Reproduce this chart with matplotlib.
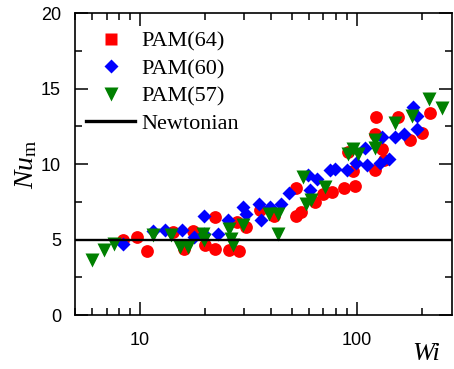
import matplotlib
matplotlib.use("Agg")
import matplotlib.pyplot as plt
from matplotlib.lines import Line2D
from matplotlib.ticker import LogLocator, NullFormatter, FixedLocator

plt.rcParams['mathtext.fontset'] = 'custom'
plt.rcParams['mathtext.it'] = 'Liberation Serif:italic'
plt.rcParams['mathtext.rm'] = 'Liberation Serif'

# PAM(64) - red circles
wi_64 = [8.37, 9.65, 10.7, 14.1, 16.0, 17.5, 19.9, 22.2, 22.2, 25.8, 28.5, 27.9,
         30.8, 35.6, 41.3, 52.5, 52.5, 55.4, 63.9, 69.9, 76.4, 87.1, 97.9, 96.3,
         91.2, 121, 121, 123, 130, 133, 155, 176, 199, 218]
nu_64 = [5.0, 5.18, 4.26, 5.5, 4.4, 5.55, 4.63, 4.41, 6.5, 4.3, 4.26, 6.17,
         5.84, 6.95, 6.6, 8.4, 6.55, 6.84, 7.5, 8.05, 8.16, 8.42, 8.55, 9.55,
         10.8, 9.6, 12.0, 13.1, 11.0, 10.25, 13.1, 11.6, 12.06, 13.4]

# PAM(60) - blue diamonds
wi_60 = [8.37, 11.5, 13.0, 15.6, 17.8, 19.6, 19.6, 22.8, 25.4, 29.8, 30.8, 35.3,
         36.2, 39.8, 44.8, 48.6, 59.5, 65.1, 60.5, 75.0, 79.1, 89.6, 99.5, 111,
         109, 130, 128, 140, 150, 164, 182, 189, 189]
nu_60 = [4.7, 5.56, 5.62, 5.62, 5.18, 6.55, 5.4, 5.4, 6.28, 7.17, 6.73, 7.39,
         6.28, 7.17, 7.34, 8.1, 9.26, 9.04, 8.27, 9.6, 9.7, 9.6, 10.1, 9.92,
         11.1, 11.8, 10.1, 10.36, 11.8, 12.0, 13.8, 13.2, 12.3]

# PAM(57) - green triangles
wi_57 = [6.01, 6.81, 7.58, 11.4, 13.9, 15.2, 16.6, 19.4, 19.8, 25.8, 26.3, 26.8,
         29.8, 39.5, 43.2, 43.2, 56.5, 58.5, 61.7, 71.1, 91.2, 96.3, 101, 121,
         121, 150, 179, 214, 246]
nu_57 = [3.64, 4.3, 4.74, 5.3, 5.3, 4.52, 4.52, 5.4, 4.96, 5.73, 5.07, 4.63,
         5.95, 6.73, 6.73, 5.4, 9.15, 7.39, 7.6, 8.49, 10.7, 11.0, 10.7, 11.6,
         11.1, 12.7, 13.2, 14.3, 13.7]

nu_newtonian = 5.0

fig = plt.figure(figsize=(4.54, 3.69), dpi=100)
ax = fig.add_axes([0.165, 0.146, 0.831, 0.818])

ax.plot(wi_64, nu_64, 'o', color='#ff0000', ms=9.2, mec='none', zorder=2)
ax.plot(wi_60, nu_60, 'D', color='#0000ff', ms=7.6, mec='none', zorder=2)
ax.plot(wi_57, nu_57, 'v', color='#008000', ms=10.2, mec='none', zorder=2)
ax.axhline(nu_newtonian, color='black', lw=1.7, zorder=3)

ax.set_xscale('log')
ax.set_xlim(5, 275)
ax.set_ylim(0, 20)

ax.xaxis.set_major_locator(FixedLocator([10, 100]))
ax.xaxis.set_minor_locator(LogLocator(base=10, subs=range(2, 10)))
ax.xaxis.set_minor_formatter(NullFormatter())
ax.set_xticks([10, 100])
ax.set_xticklabels(['10', '100'])
ax.set_yticks([0, 5, 10, 15, 20])
ax.set_yticks([2.5, 7.5, 12.5, 17.5], minor=True)

for s in ax.spines.values():
    s.set_linewidth(1.2)

ax.tick_params(which='both', direction='in', top=True, right=True, width=1.1)
ax.tick_params(which='major', length=9.5)
ax.tick_params(which='minor', length=5)
ax.tick_params(axis='x', which='major', pad=12)
ax.tick_params(axis='y', which='major', pad=10)
for lab in ax.get_xticklabels() + ax.get_yticklabels():
    lab.set_fontfamily('Liberation Sans')
    lab.set_fontsize(13)

ax.set_ylabel(r'$\mathit{Nu}_{\mathrm{m}}$', fontsize=20, labelpad=1)
ax.text(0.93, -0.13, 'Wi', transform=ax.transAxes, fontsize=19,
        family='Liberation Serif', style='italic', ha='center', va='center')

handles = [
    Line2D([], [], ls='none', marker='s', color='#ff0000', ms=9, mec='none'),
    Line2D([], [], ls='none', marker='D', color='#0000ff', ms=7.6, mec='none'),
    Line2D([], [], ls='none', marker='v', color='#008000', ms=10.5, mec='none'),
    Line2D([], [], color='black', lw=2.4),
]
labels = ['PAM(64)', 'PAM(60)', 'PAM(57)', 'Newtonian']
ax.legend(handles, labels, loc='upper left', bbox_to_anchor=(0.03, 0.94),
          frameon=False, borderpad=0, borderaxespad=0, handlelength=2.2,
          handletextpad=0.3, labelspacing=0.3,
          prop={'family': 'Liberation Serif', 'size': 16})

fig.savefig('out.png', dpi=100)
